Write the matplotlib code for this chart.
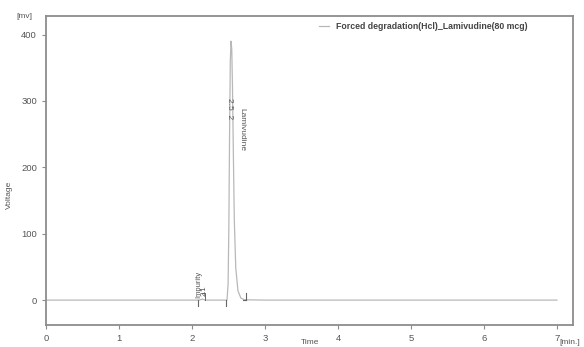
import matplotlib
matplotlib.use("Agg")
import matplotlib.pyplot as plt

plt.rcParams["font.family"] = ["Liberation Sans", "DejaVu Sans"]

# ---- data ----
time_min = [0.0, 2.0, 2.10, 2.14, 2.18, 2.30, 2.48, 2.495, 2.505, 2.515, 2.525,
            2.535, 2.545, 2.555, 2.565, 2.58, 2.60, 2.63, 2.67, 2.72, 3.0, 7.0]
voltage_mv = [0.0, 0.0, 0.0, 1.5, 0.0, 0.0, 0.0, 25, 110, 250, 360,
              390, 378, 320, 235, 120, 48, 14, 3, 0.5, 0.0, 0.0]

series_label = "Forced degradation(Hcl)_Lamivudine(80 mcg)"

# peak start/end marks on the baseline
down_marks = [2.08, 2.46]
up_marks = [2.74]
impurity_rt = 2.12
main_rt = 2.535

LINE_C = "#b8b8b8"
AX_C = "#8c8c8c"
TXT_C = "#555555"

fig = plt.figure(figsize=(5.84, 3.47), dpi=100)
ax = fig.add_axes([46 / 584, 1 - 325 / 347, (573 - 46) / 584, (325 - 16) / 347])

ax.plot(time_min, voltage_mv, color=LINE_C, lw=0.9, label=series_label)

for t in down_marks:
    ax.plot([t, t], [0, -9], color="#666666", lw=0.8)
for t in up_marks:
    ax.plot([t, t], [0, 10], color="#666666", lw=0.8)
    ax.plot([t - 0.04, t], [0, 0], color="#666666", lw=0.8)
ax.plot([impurity_rt + 0.06, impurity_rt + 0.06, impurity_rt + 0.02],
        [0, 10, 10], color="#666666", lw=0.7)

ax.text(impurity_rt - 0.03, 3, "Impurity", rotation=90, fontsize=5.5,
        color=TXT_C, ha="center", va="bottom")
ax.text(impurity_rt + 0.05, 6, "2.1", rotation=90, fontsize=5.5,
        color=TXT_C, ha="center", va="bottom")
ax.text(main_rt - 0.02, 305, "2.5  2", rotation=270, fontsize=6,
        color=TXT_C, ha="center", va="top")
ax.text(main_rt + 0.15, 290, "Lamivudine", rotation=270, fontsize=6,
        color=TXT_C, ha="center", va="top")

ax.set_xlim(0, 7.22)
ax.set_ylim(-37.5, 428)
ax.set_xticks(range(0, 8))
ax.set_yticks([0, 100, 200, 300, 400])

for s in ax.spines.values():
    s.set_color(AX_C)
    s.set_linewidth(1.3)
ax.tick_params(colors=AX_C, labelcolor=TXT_C, labelsize=6.8, length=3, width=0.8)

ax.set_ylabel("Voltage", fontsize=6, color=TXT_C)
ax.yaxis.set_label_coords(-0.062, 0.42)
ax.text(-0.025, 1.0, "[mv]", transform=ax.transAxes, fontsize=6,
        color=TXT_C, ha="right", va="center")
fig.text(310 / 584, 0.002, "Time", fontsize=6, color=TXT_C,
         ha="center", va="bottom")
fig.text(570 / 584, 1 - 343 / 347, "[min.]", fontsize=6, color=TXT_C,
         ha="center", va="center")

leg = ax.legend(loc="upper right", frameon=False, fontsize=6.3,
                handlelength=1.2, borderaxespad=0.25, bbox_to_anchor=(0.925, 1.0))
for txt in leg.get_texts():
    txt.set_fontweight("bold")
    txt.set_color("#444444")

fig.savefig("out.png", dpi=100)
